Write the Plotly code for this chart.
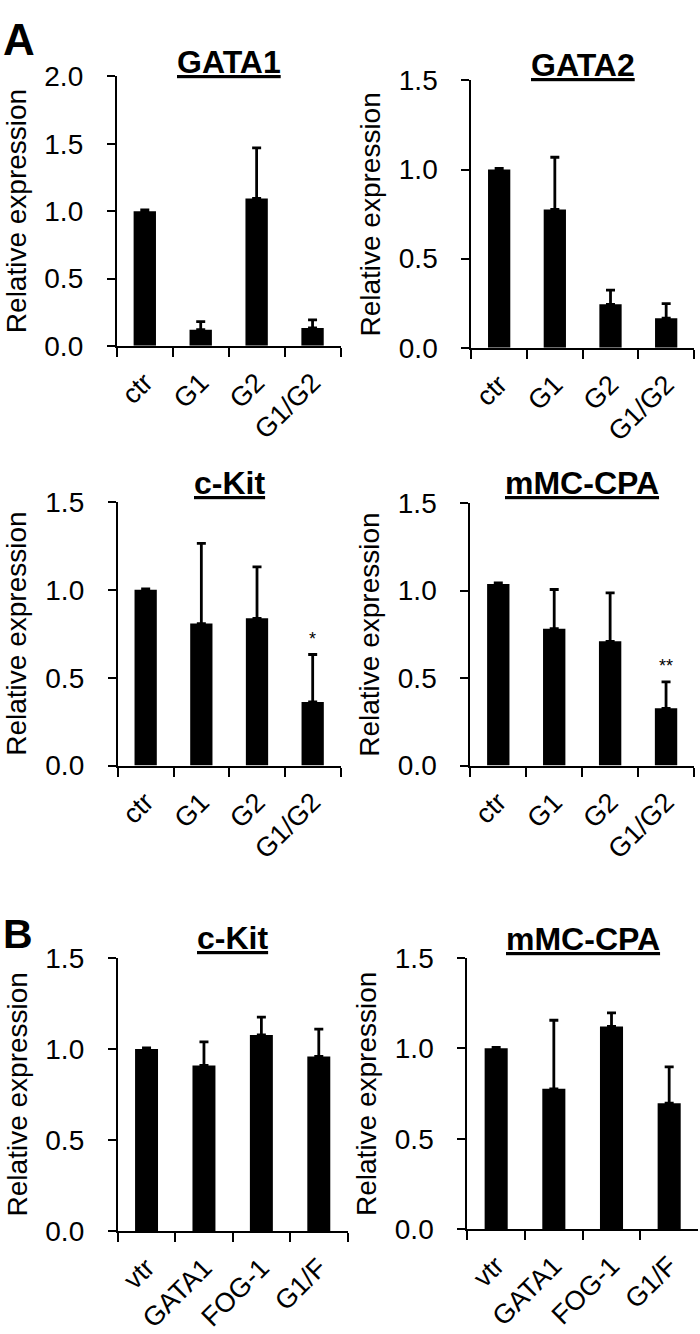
import plotly.graph_objects as go

W, H = 700, 1334

cats_A = ["ctr", "G1", "G2", "G1/G2"]
cats_B = ["vtr", "GATA1", "FOG-1", "G1/F"]

gata1 = [1.0, 0.12, 1.095, 0.133]
gata1_err = [0.01, 0.06, 0.375, 0.06]
gata2 = [1.0, 0.776, 0.244, 0.166]
gata2_err = [0.006, 0.293, 0.08, 0.082]
ckitA = [1.0, 0.808, 0.838, 0.362]
ckitA_err = [0.006, 0.457, 0.293, 0.27]
mmcA = [1.037, 0.782, 0.710, 0.327]
mmcA_err = [0.006, 0.224, 0.277, 0.151]
ckitB = [1.0, 0.909, 1.077, 0.959]
ckitB_err = [0.005, 0.13, 0.098, 0.15]
mmcB = [1.0, 0.776, 1.121, 0.696]
mmcB_err = [0.005, 0.379, 0.075, 0.201]

sigA_ckit = ["", "", "", "*"]
sigA_mmc = ["", "", "", "**"]

titles = ["GATA1", "GATA2", "c-Kit", "mMC-CPA", "c-Kit", "mMC-CPA"]
ytitle = "Relative expression"
ymax = [2.0, 1.5, 1.5, 1.5, 1.5, 1.5]

FONT = "Liberation Sans, Arial, sans-serif"

panels = [
    dict(cats=cats_A, y=gata1, e=gata1_err, sig=None, box=(116, 340, 63, 339), ty=48),
    dict(cats=cats_A, y=gata2, e=gata2_err, sig=None, box=(471, 694, 67, 341), ty=51),
    dict(cats=cats_A, y=ckitA, e=ckitA_err, sig=sigA_ckit, box=(117, 340, 499, 769), ty=479),
    dict(cats=cats_A, y=mmcA, e=mmcA_err, sig=sigA_mmc, box=(470, 694, 500, 769), ty=479),
    dict(cats=cats_B, y=ckitB, e=ckitB_err, sig=None, box=(117, 347, 966, 1246), ty=946),
    dict(cats=cats_B, y=mmcB, e=mmcB_err, sig=None, box=(467, 698, 966, 1244), ty=947),
]

fig = go.Figure()
annotations = []
for i, p in enumerate(panels):
    n = i + 1
    xa = "x" if n == 1 else f"x{n}"
    ya = "y" if n == 1 else f"y{n}"
    x0, x1, y0, y1 = p["box"]
    fig.add_trace(go.Bar(
        x=p["cats"], y=p["y"], xaxis=xa, yaxis=ya, width=0.4,
        marker=dict(color="black", line=dict(width=0)),
        error_y=dict(type="data", array=p["e"], arrayminus=[0] * 4, symmetric=False,
                     color="black", thickness=2.8, width=4.5),
        showlegend=False,
    ))
    common_x = dict(domain=[x0 / W, x1 / W], anchor=ya, type="category",
                    categoryorder="array", categoryarray=p["cats"], range=[-0.5, 3.5],
                    showline=True, linecolor="black", linewidth=2, ticks="outside",
                    tickson="boundaries", ticklen=9, tickwidth=2, tickcolor="black",
                    tickangle=-45, tickfont=dict(family=FONT, size=27, color="black"),
                    showgrid=False, zeroline=False, fixedrange=True, ticklabelstandoff=8)
    common_y = dict(domain=[1 - y1 / H, 1 - y0 / H], anchor=xa, range=[0, ymax[i]],
                    dtick=0.5, tickformat=".1f", showline=True, linecolor="black",
                    linewidth=2, ticks="outside", ticklen=8, tickwidth=2, tickcolor="black",
                    tickfont=dict(family=FONT, size=28, color="black"), showgrid=False,
                    zeroline=False, ticklabelstandoff=18)
    key = "" if n == 1 else str(n)
    fig.update_layout(**{f"xaxis{key}": common_x, f"yaxis{key}": common_y})
    annotations.append(dict(text=f"<b><u>{titles[i]}</u></b>", x=((x0 + x1) / 2) / W,
                            y=1 - p["ty"] / H, xref="paper", yref="paper", showarrow=False,
                            xanchor="center", yanchor="middle",
                            font=dict(family=FONT, size=32, color="black")))
    annotations.append(dict(text=ytitle, x=(x0 - 101) / W, y=1 - ((y0 + y1) / 2) / H,
                            xref="paper", yref="paper", showarrow=False, textangle=-90,
                            xanchor="center", yanchor="middle",
                            font=dict(family=FONT, size=28, color="black")))
    if p["sig"]:
        for c, v, e, s in zip(p["cats"], p["y"], p["e"], p["sig"]):
            if s:
                annotations.append(dict(text=s, x=c, y=v + e, xref=xa, yref=ya,
                                        showarrow=False, yanchor="bottom", yshift=4,
                                        font=dict(family=FONT, size=18, color="black")))

annotations.append(dict(text="<b>A</b>", x=0, y=1 + 2 / H, xref="paper", yref="paper",
                        showarrow=False, xanchor="left", yanchor="top",
                        font=dict(family=FONT, size=44, color="black")))
annotations.append(dict(text="<b>B</b>", x=0, y=1 - 916 / H, xref="paper", yref="paper",
                        showarrow=False, xanchor="left", yanchor="top",
                        font=dict(family=FONT, size=41, color="black")))

fig.update_layout(width=W, height=H, margin=dict(l=0, r=0, t=0, b=0),
                  paper_bgcolor="white", plot_bgcolor="white", annotations=annotations,
                  bargap=0.6)
fig.write_html("out.html", config={"displayModeBar": False},
               post_script="document.body.style.margin='0';document.body.style.overflow='hidden';")
